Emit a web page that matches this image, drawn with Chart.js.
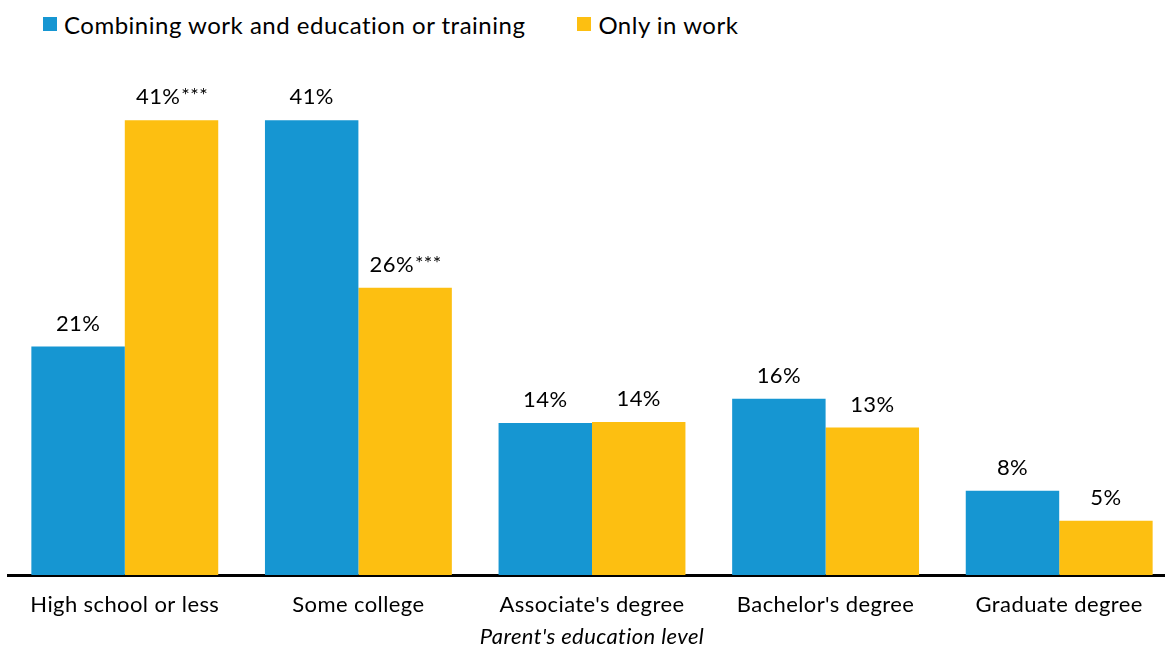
<!DOCTYPE html>
<html>
<head>
<meta charset="utf-8">
<script src="https://cdn.jsdelivr.net/npm/chart.js@4/dist/chart.umd.min.js"></script>
<style>
  html, body { margin: 0; padding: 0; background: #fff; overflow: hidden; }
  body { width: 1165px; height: 646px; position: relative; font-family: Lato, sans-serif; }
  .legend { position: absolute; top: 7px; left: 43px; font-size: 24px; letter-spacing: 0.5px; color: #000; white-space: nowrap; }
  .legend span { display: inline-flex; align-items: center; }
  .legend i { display: inline-block; width: 14px; height: 14px; margin-right: 7px; }
  .legend span + span { margin-left: 52px; }
  .wrap { position: absolute; left: 0; top: 0; width: 1184px; height: 646px; }
</style>
</head>
<body>
<div class="legend" id="legend"></div>
<div class="wrap"><canvas id="chart"></canvas></div>
<script>
const categories = ["High school or less", "Some college", "Associate's degree", "Bachelor's degree", "Graduate degree"];
const seriesNames = ["Combining work and education or training", "Only in work"];
const workAndSchool = [20.6, 41.0, 13.7, 15.9, 7.6];
const workOnly = [41.0, 25.9, 13.8, 13.3, 4.9];
const workOnlyNotes = ["***", "***", "", "", ""];
const colors = ["#1696d2", "#fdbf11"];

const legend = document.getElementById("legend");
legend.innerHTML = seriesNames
  .map((name, i) => `<span><i style="background:${colors[i]}"></i>${name}</span>`)
  .join("");

// slightly looser text tracking for everything drawn on the canvas
const textSpacing = {
  id: "textSpacing",
  beforeDraw(chart) {
    chart.ctx.letterSpacing = "0.4px";
  },
};

// value labels above each bar, with the significance stars set smaller
const barLabels = {
  id: "barLabels",
  afterDatasetsDraw(chart) {
    const { ctx } = chart;
    ctx.save();
    ctx.fillStyle = "#000";
    ctx.textBaseline = "alphabetic";
    ctx.textAlign = "left";
    chart.data.datasets.forEach((dataset, d) => {
      const meta = chart.getDatasetMeta(d);
      meta.data.forEach((bar, i) => {
        const main = Math.round(dataset.data[i]) + "%";
        const note = (dataset.notes && dataset.notes[i]) || "";
        ctx.font = "22px Lato";
        const mainWidth = ctx.measureText(main).width;
        ctx.font = "20px Lato";
        const noteWidth = note ? ctx.measureText(note).width : 0;
        const left = bar.x - (mainWidth + noteWidth) / 2;
        const baseline = bar.y - 16;
        ctx.font = "22px Lato";
        ctx.fillText(main, left, baseline);
        if (note) {
          ctx.font = "20px Lato";
          ctx.fillText(note, left + mainWidth + 1, baseline - 2);
        }
      });
    });
    ctx.restore();
  },
};

new Chart(document.getElementById("chart"), {
  type: "bar",
  data: {
    labels: categories,
    datasets: [
      {
        label: seriesNames[0],
        data: workAndSchool,
        backgroundColor: colors[0],
        categoryPercentage: 0.8,
        barPercentage: 1,
      },
      {
        label: seriesNames[1],
        data: workOnly,
        notes: workOnlyNotes,
        backgroundColor: colors[1],
        categoryPercentage: 0.8,
        barPercentage: 1,
      },
    ],
  },
  options: {
    responsive: true,
    maintainAspectRatio: false,
    animation: false,
    layout: {
      padding: { left: 8, right: 8, top: 76, bottom: 0 },
    },
    plugins: {
      legend: { display: false },
      tooltip: { enabled: false },
    },
    scales: {
      x: {
        grid: { display: false, drawTicks: false },
        border: { display: true, color: "#000", width: 3 },
        ticks: {
          color: "#000",
          padding: 17,
          font: { family: "Lato", size: 22 },
          maxRotation: 0,
        },
        title: {
          display: true,
          text: "Parent's education level",
          color: "#000",
          font: { family: "Lato", size: 22, style: "italic" },
          padding: { top: 0, bottom: -4 },
        },
        afterFit(scale) {
          scale.height = 71;
        },
      },
      y: {
        display: false,
        min: 0,
        max: 45,
      },
    },
  },
  plugins: [textSpacing, barLabels],
});
</script>
</body>
</html>
